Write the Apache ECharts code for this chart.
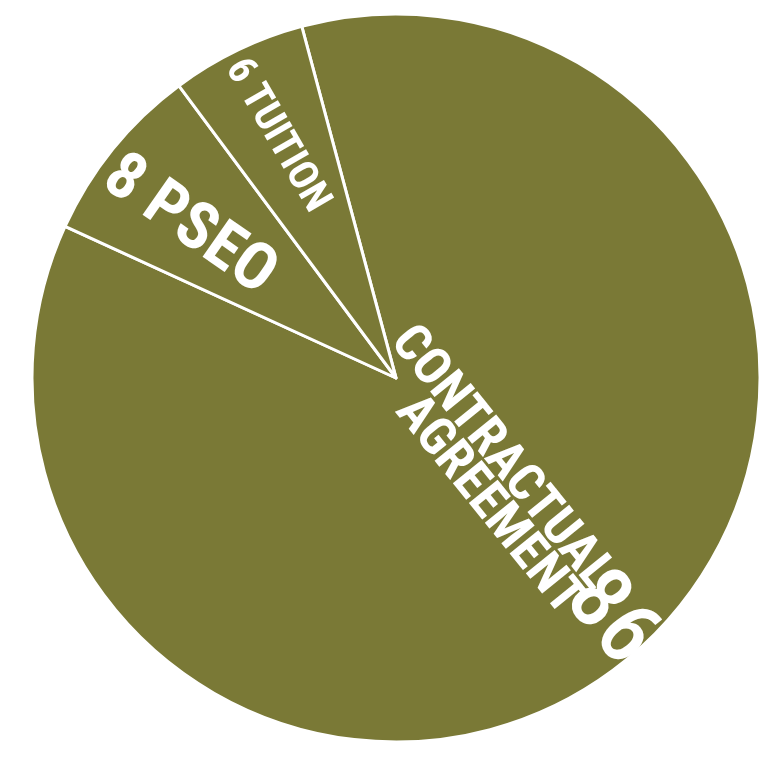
<!DOCTYPE html>
<html>
<head>
<meta charset="utf-8">
<script src="https://cdn.jsdelivr.net/npm/echarts@6/dist/echarts.min.js"></script>
<style>
  html, body { margin: 0; padding: 0; background: #fff; }
  #chart { width: 763px; height: 764px; }
</style>
</head>
<body>
<div id="chart"></div>
<script>
// 数据
const categories = ['CONTRACTUAL AGREEMENT', 'PSEO', 'TUITION']
const values = [86, 8, 6]

const FONT = "'Roboto Condensed', 'DejaVu Sans Condensed', sans-serif"
const OLIVE = '#7a7936'

// 每个扇区文字的旋转、字号和偏移（dx/dy 是在文字旋转后的坐标系里）
const nameLabels = [
  { rotate: -51, fontSize: 52, lineHeight: 40, dx: -56, dy: -7 },
  { rotate: -35, fontSize: 66, lineHeight: 70, dx: -72, dy: 8 },
  { rotate: -60, fontSize: 41, lineHeight: 44, dx: -85, dy: -4 }
]
const valueLabel = { rotate: -51, fontSize: 90, dx: 137, dy: -9 }

const chart = echarts.init(document.getElementById('chart'))

const pieBase = {
  type: 'pie',
  center: [396, 378],
  radius: [0, 364],
  startAngle: 105,
  clockwise: true,
  avoidLabelOverlap: false,
  labelLine: { show: false },
  emphasis: { disabled: true },
  animation: false
}

chart.setOption({
  backgroundColor: '#fff',
  series: [
    Object.assign({}, pieBase, {
      itemStyle: { color: OLIVE, borderColor: '#fff', borderWidth: 3 },
      data: categories.map((name, i) => ({
        name: name,
        value: values[i],
        label: {
          show: true,
          position: 'inside',
          rotate: nameLabels[i].rotate,
          fontSize: nameLabels[i].fontSize,
          lineHeight: nameLabels[i].lineHeight,
          fontFamily: FONT,
          fontWeight: 'bold',
          color: '#fff',
          // 大扇区只写名称（两行靠右），数字另外画
          formatter: i === 0
            ? name.split(' ').map(w => '{r|' + w + '}').join('\n')
            : values[i] + ' ' + name,
          rich: {
            r: {
              align: 'right',
              fontSize: nameLabels[0].fontSize,
              lineHeight: nameLabels[0].lineHeight,
              fontFamily: FONT,
              fontWeight: 'bold',
              color: '#fff'
            }
          }
        }
      })),
      labelLayout: (p) => ({ dx: nameLabels[p.dataIndex].dx, dy: nameLabels[p.dataIndex].dy })
    }),
    // 透明的一层，只用来放 86
    Object.assign({}, pieBase, {
      silent: true,
      itemStyle: { color: 'rgba(0,0,0,0)', borderWidth: 0 },
      data: categories.map((name, i) => ({
        name: name,
        value: values[i],
        label: {
          show: i === 0,
          position: 'inside',
          rotate: valueLabel.rotate,
          fontSize: valueLabel.fontSize,
          fontFamily: FONT,
          fontWeight: 500,
          color: '#fff',
          formatter: '{c}'
        }
      })),
      labelLayout: (p) => p.dataIndex === 0 ? { dx: valueLabel.dx, dy: valueLabel.dy } : {}
    })
  ]
})
</script>
</body>
</html>
